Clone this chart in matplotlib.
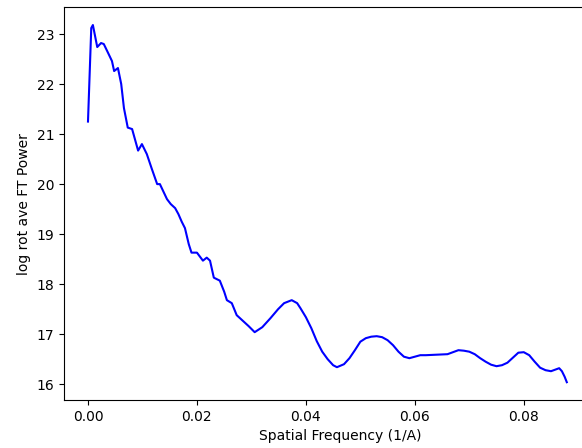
import matplotlib
matplotlib.use("Agg")
import matplotlib.pyplot as plt

# spatial frequency (1/A) and log rotational average of FT power
freq = [0.0000, 0.0006, 0.0009, 0.0017, 0.0024, 0.0029, 0.0037, 0.0044, 0.0048,
        0.0055, 0.0061, 0.0066, 0.0073, 0.0081, 0.0092, 0.0099, 0.0108, 0.0117,
        0.0127, 0.0132, 0.0145, 0.0152, 0.0160, 0.0166, 0.0172, 0.0178, 0.0185,
        0.0190, 0.0200, 0.0211, 0.0218, 0.0224, 0.0231, 0.0242, 0.0250, 0.0255,
        0.0264, 0.0273, 0.0283, 0.0295, 0.0306, 0.0320, 0.0335, 0.0349, 0.0360,
        0.0374, 0.0384, 0.0390, 0.0400, 0.0410, 0.0420, 0.0430, 0.0440, 0.0450,
        0.0457, 0.0470, 0.0480, 0.0490, 0.0500, 0.0510, 0.0520, 0.0530, 0.0540,
        0.0550, 0.0560, 0.0570, 0.0580, 0.0590, 0.0600, 0.0610, 0.0620, 0.0640,
        0.0660, 0.0670, 0.0680, 0.0690, 0.0700, 0.0710, 0.0720, 0.0730, 0.0740,
        0.0750, 0.0760, 0.0770, 0.0780, 0.0790, 0.0800, 0.0810, 0.0820, 0.0830,
        0.0840, 0.0850, 0.0860, 0.0865, 0.0870, 0.0875, 0.0879]
power = [21.25, 23.12, 23.18, 22.74, 22.82, 22.80, 22.62, 22.46, 22.26,
         22.32, 22.00, 21.52, 21.13, 21.10, 20.67, 20.80, 20.60, 20.31,
         20.00, 20.00, 19.70, 19.60, 19.52, 19.40, 19.25, 19.12, 18.80,
         18.63, 18.63, 18.47, 18.53, 18.47, 18.13, 18.07, 17.85, 17.68,
         17.62, 17.38, 17.28, 17.16, 17.04, 17.14, 17.32, 17.50, 17.62,
         17.68, 17.62, 17.52, 17.34, 17.12, 16.86, 16.65, 16.50, 16.38,
         16.34, 16.40, 16.52, 16.68, 16.85, 16.92, 16.95, 16.96, 16.94,
         16.88, 16.78, 16.65, 16.55, 16.52, 16.55, 16.58, 16.58, 16.59,
         16.60, 16.64, 16.68, 16.67, 16.65, 16.60, 16.52, 16.45, 16.39,
         16.36, 16.38, 16.43, 16.53, 16.63, 16.64, 16.58, 16.45, 16.33,
         16.28, 16.26, 16.30, 16.32, 16.26, 16.15, 16.04]

fig = plt.figure(figsize=(5.82, 4.48), dpi=100)
ax = fig.add_axes([0.110, 0.107, 0.95, 0.877])
ax.plot(freq, power, color='b')
ax.set_xlim(-0.0044, 0.0971)
ax.set_xlabel('Spatial Frequency (1/A)')
ax.set_ylabel('log rot ave FT Power')
ax.set_xticks([0.0, 0.02, 0.04, 0.06, 0.08])

fig.savefig('out.png', dpi=100)
